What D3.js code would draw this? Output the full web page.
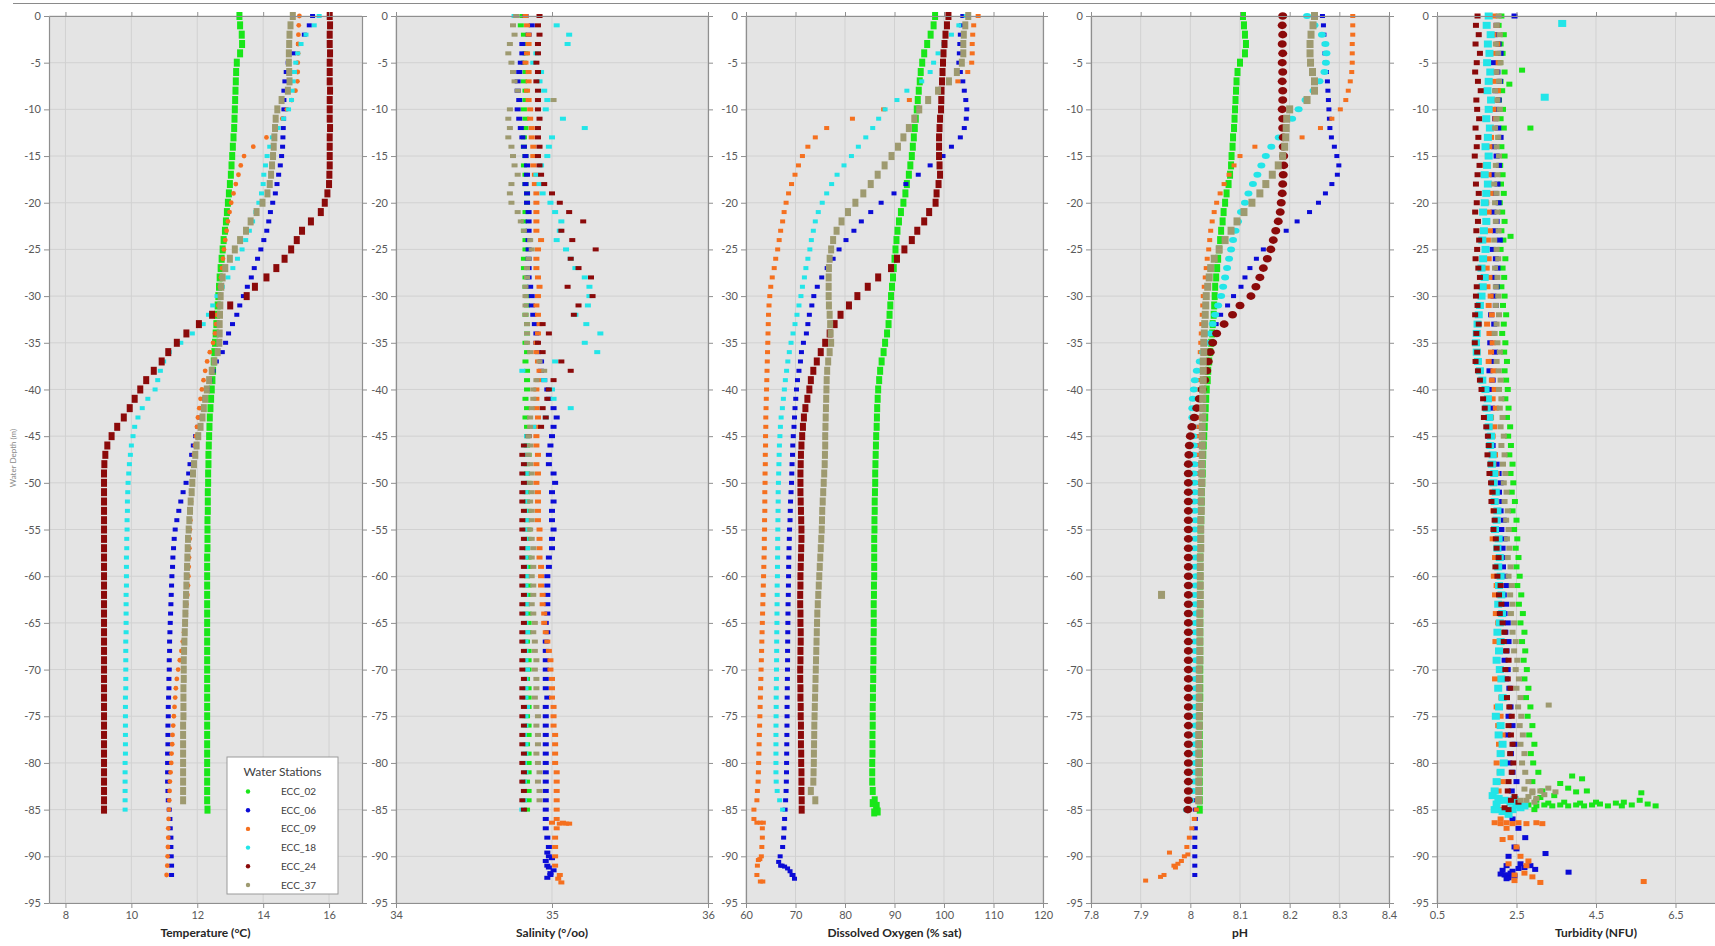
<!DOCTYPE html>
<html>
<head>
<meta charset="utf-8">
<script src="https://cdn.jsdelivr.net/npm/d3@7"></script>
<style>
  body { margin: 0; background: #fff; }
  svg { display: block; overflow: hidden; font-family: Lato, "Open Sans", sans-serif; }
</style>
</head>
<body>
<svg id="chart" width="1715" height="946"></svg>
<script>
/* CTD profiles of six water stations, one panel per parameter.
   Profiles read off at 1 m depth steps (index = metres below surface). */

var stations = ["ECC_02", "ECC_06", "ECC_09", "ECC_18", "ECC_24", "ECC_37"];
var stationColors = ["#19e619", "#0b0bd6", "#f5701f", "#22e5e8", "#8b0a0a", "#9e9a70"];

var depthTicks = [0, -5, -10, -15, -20, -25, -30, -35, -40, -45, -50, -55, -60, -65, -70, -75, -80, -85, -90, -95];
var tempTicks = [8, 10, 12, 14, 16];
var salTicks = [34, 35, 36];
var doTicks = [60, 70, 80, 90, 100, 110, 120];
var phTicks = [7.8, 7.9, 8.0, 8.1, 8.2, 8.3, 8.4];
var turbTicks = [0.5, 2.5, 4.5, 6.5];

// ---- Temperature (°C)
var temp02 = [13.28,13.3,13.35,13.36,13.3,13.2,13.18,13.17,13.16,13.15,
  13.14,13.13,13.12,13.1,13.08,13.06,13.04,13.02,12.99,12.96,
  12.93,12.9,12.87,12.84,12.8,12.77,12.74,12.71,12.68,12.66,
  12.64,12.62,12.6,12.58,12.56,12.54,12.52,12.5,12.48,12.46,
  12.44,12.42,12.4,12.38,12.37,12.36,12.35,12.34,12.34,12.33,
  12.33,12.32,12.32,12.32,12.31,12.31,12.31,12.31,12.3,12.3,
  12.3,12.3,12.3,12.3,12.3,12.3,12.3,12.3,12.3,12.3,
  12.3,12.3,12.3,12.3,12.3,12.3,12.3,12.3,12.3,12.3,
  12.3,12.3,12.3,12.3,12.3,12.31];
var temp06 = [15.5,15.4,15.25,15.08,14.92,14.76,14.7,14.66,14.63,14.63,
  14.63,14.62,14.61,14.6,14.59,14.56,14.52,14.47,14.42,14.37,
  14.29,14.22,14.17,14.11,14.02,13.93,13.83,13.73,13.64,13.52,
  13.4,13.29,13.2,13.07,12.95,12.86,12.76,12.58,12.48,12.38,
  12.3,12.22,12.15,12.08,12.02,11.95,11.88,11.83,11.78,11.74,
  11.66,11.57,11.5,11.44,11.38,11.33,11.3,11.28,11.26,11.25,
  11.23,11.22,11.21,11.2,11.19,11.18,11.17,11.16,11.16,11.15,
  11.15,11.14,11.14,11.13,11.12,11.12,11.11,11.11,11.11,11.1,
  11.1,11.1,11.1,11.11,11.12,11.15,11.17,11.18,11.2,11.2,
  11.21,11.22,11.22];
var temp09 = [15.1,15.08,15.07,15.06,15.06,15.05,15.05,15.04,14.98,14.87,
  14.72,14.58,14.42,14.1,13.7,13.42,13.32,13.25,13.17,13.1,
  13.03,12.98,12.93,12.89,12.85,12.81,12.78,12.75,12.72,12.69,
  12.67,12.64,12.6,12.57,12.54,12.48,12.38,12.3,12.24,12.19,
  12.14,12.1,12.06,12.02,11.99,11.96,11.93,11.9,11.88,11.86,
  11.84,11.82,11.81,11.8,11.79,11.78,11.77,11.76,11.75,11.74,
  11.73,11.72,11.7,11.67,11.65,11.63,11.6,11.56,11.52,11.47,
  11.42,11.38,11.35,11.33,11.31,11.29,11.27,11.25,11.24,11.22,
  11.21,11.19,11.17,11.16,11.15,11.14,11.13,11.12,11.12,11.11,
  11.1,11.09,11.07];
var temp18 = [15.7,15.55,15.3,15.15,15.05,14.99,14.95,14.91,14.88,14.86,
  14.77,14.62,14.45,14.28,14.2,14.12,14.07,14.02,14.0,13.95,
  13.87,13.78,13.68,13.58,13.47,13.36,13.22,13.08,12.93,12.76,
  12.6,12.47,12.34,12.18,11.85,11.5,11.15,10.98,10.88,10.8,
  10.72,10.5,10.33,10.2,10.1,10.05,10.0,9.97,9.94,9.92,
  9.9,9.89,9.88,9.88,9.87,9.87,9.86,9.86,9.85,9.85,
  9.85,9.85,9.84,9.84,9.84,9.84,9.84,9.83,9.83,9.83,
  9.83,9.83,9.83,9.82,9.82,9.82,9.82,9.82,9.82,9.82,
  9.81,9.81,9.81,9.81,9.81,9.81];
var temp24 = [16.02,16.03,16.02,16.02,16.03,16.02,16.02,16.02,16.03,16.02,
  16.02,16.02,16.03,16.02,16.02,16.02,16.02,16.01,16.0,15.95,
  15.87,15.75,15.45,15.18,15.02,14.85,14.65,14.4,14.1,13.75,
  13.5,13.0,12.45,12.05,11.67,11.38,11.12,10.92,10.68,10.45,
  10.27,10.1,9.95,9.77,9.57,9.4,9.27,9.21,9.18,9.17,
  9.17,9.17,9.17,9.17,9.17,9.17,9.17,9.17,9.17,9.17,
  9.17,9.17,9.17,9.17,9.17,9.17,9.17,9.17,9.17,9.17,
  9.17,9.17,9.17,9.17,9.17,9.17,9.17,9.17,9.17,9.17,
  9.17,9.17,9.17,9.17,9.17,9.17];
var temp37 = [14.9,14.83,14.8,14.79,14.78,14.78,14.79,14.8,14.75,14.56,
  14.43,14.38,14.36,14.34,14.32,14.3,14.27,14.24,14.2,14.13,
  13.98,13.8,13.62,13.48,13.3,13.14,12.99,12.85,12.77,12.73,
  12.71,12.7,12.69,12.68,12.68,12.67,12.62,12.52,12.44,12.36,
  12.29,12.24,12.2,12.16,12.1,12.03,11.98,11.94,11.9,11.87,
  11.85,11.83,11.8,11.78,11.76,11.74,11.72,11.71,11.7,11.69,
  11.68,11.67,11.66,11.65,11.64,11.63,11.62,11.61,11.6,11.59,
  11.59,11.59,11.58,11.58,11.58,11.58,11.57,11.57,11.57,11.57,
  11.57,11.57,11.57,11.57,11.57];

// ---- Salinity (°/oo)
var sal02 = [34.81,34.8,34.82,34.83,34.83,34.82,34.83,34.82,34.83,34.83,
  34.82,34.83,34.83,34.82,34.82,34.83,34.82,34.83,34.83,34.84,
  34.84,34.83,34.82,34.82,34.83,34.83,34.82,34.82,34.83,34.83,
  34.84,34.84,34.83,34.84,34.84,34.83,34.84,34.83,34.84,34.84,
  34.84,34.83,34.84,34.83,34.84,34.84,34.84,34.85,34.84,34.84,
  34.85,34.84,34.84,34.85,34.84,34.85,34.85,34.84,34.85,34.85,
  34.84,34.85,34.85,34.84,34.85,34.85,34.85,34.84,34.85,34.85,
  34.85,34.84,34.85,34.85,34.85,34.84,34.85,34.85,34.84,34.85,
  34.85,34.85,34.84,34.85,34.85,34.84];
var sal06 = [34.83,34.87,34.85,34.81,34.81,34.8,34.79,34.78,34.78,34.79,
  34.78,34.79,34.8,34.81,34.82,34.83,34.84,34.84,34.83,34.84,
  34.84,34.85,34.85,34.85,34.85,34.85,34.85,34.85,34.85,34.86,
  34.87,34.87,34.88,34.89,34.9,34.9,34.91,34.93,34.93,34.95,
  34.97,34.98,35.01,35.03,35.01,35.0,34.99,34.98,34.98,35.01,
  35.02,35.0,35.01,35.0,35.0,35.01,35.0,35.0,34.98,34.98,
  34.97,34.97,34.97,34.97,34.97,34.96,34.97,34.96,34.96,34.96,
  34.96,34.96,34.96,34.97,34.96,34.96,34.96,34.96,34.96,34.96,
  34.96,34.96,34.96,34.96,34.96,34.96,34.96,34.96,34.97,34.98,
  34.98,34.97,34.99];
var sal09 = [34.83,34.84,34.85,34.85,34.84,34.83,34.85,34.85,34.84,34.85,
  34.86,34.86,34.87,34.87,34.88,34.88,34.88,34.89,34.89,34.9,
  34.9,34.9,34.9,34.9,34.93,34.91,34.9,34.9,34.91,34.92,
  34.91,34.9,34.91,34.92,34.91,34.9,34.9,34.91,34.92,34.91,
  34.9,34.9,34.9,34.91,34.9,34.9,34.9,34.91,34.9,34.91,
  34.9,34.91,34.91,34.91,34.91,34.92,34.92,34.92,34.92,34.93,
  34.93,34.93,34.94,34.94,34.95,34.95,34.96,34.97,34.98,34.99,
  34.99,35.0,35.0,35.0,35.01,35.01,35.01,35.02,35.02,35.02,
  35.02,35.03,35.03,35.03,35.03,35.03,35.03,35.03,35.02,35.02,
  35.02,35.02,35.05];
var sal18 = [34.76,35.03,35.11,35.1,34.9,34.88,34.93,34.92,34.95,34.97,
  34.96,35.07,35.21,35.0,34.98,34.97,34.93,34.9,34.92,34.94,
  34.99,35.02,35.06,35.05,35.03,35.09,35.12,35.15,35.21,35.24,
  35.24,35.23,35.15,35.22,35.31,35.21,35.29,35.02,34.81,34.95,
  35.0,35.01,35.12,34.96,34.88,34.84,34.83,34.84,34.83,34.84,
  34.83,34.83,34.84,34.83,34.84,34.83,34.83,34.84,34.83,34.83,
  34.84,34.83,34.83,34.84,34.83,34.83,34.84,34.83,34.83,34.83,
  34.84,34.83,34.83,34.83,34.84,34.83,34.83,34.82,34.83,34.83,
  34.82,34.83,34.82,34.82,34.82,34.81];
var sal24 = [34.92,34.91,34.92,34.91,34.91,34.9,34.91,34.9,34.91,34.91,
  34.91,34.92,34.91,34.91,34.92,34.91,34.92,34.93,34.95,35.0,
  35.05,35.11,35.2,35.06,35.13,35.28,35.12,35.17,35.25,35.1,
  35.26,35.17,35.14,34.94,34.98,34.91,34.94,35.06,35.12,35.01,
  34.98,34.97,34.94,34.96,34.93,34.85,34.82,34.81,34.82,34.81,
  34.82,34.81,34.81,34.82,34.81,34.81,34.82,34.81,34.81,34.82,
  34.81,34.81,34.82,34.81,34.81,34.82,34.81,34.81,34.82,34.81,
  34.81,34.82,34.81,34.81,34.82,34.81,34.82,34.81,34.81,34.82,
  34.81,34.82,34.81,34.82,34.81,34.82];
var sal37 = [34.77,34.75,34.76,34.73,34.72,34.74,34.75,34.76,34.78,35.01,
  34.73,34.72,34.73,34.72,34.74,34.75,34.76,34.78,34.74,34.73,
  34.74,34.78,34.8,34.82,34.86,34.87,34.85,34.84,34.84,34.83,
  34.83,34.83,34.83,34.84,34.84,34.84,34.86,34.92,34.95,34.9,
  34.88,34.88,34.87,34.86,34.86,34.85,34.86,34.85,34.86,34.87,
  34.86,34.87,34.86,34.87,34.87,34.86,34.87,34.88,34.87,34.88,
  34.87,34.88,34.88,34.87,34.88,34.89,34.88,34.89,34.89,34.9,
  34.89,34.9,34.9,34.89,34.9,34.91,34.9,34.91,34.91,34.9,
  34.91,34.92,34.91,34.92,34.92];
var sal06Extra = [[34.96,-90.5],[34.98,-91.2],[34.99,-91.8],[35.0,-90.2],[34.97,-92.3],[35.01,-91.5],[34.97,-89.6]];
var sal09Extra = [[35.0,-86.4],[35.05,-86.5],[35.07,-86.4],[35.09,-86.5],[35.11,-86.5],[35.04,-92.4],[35.06,-92.8]];

// ---- Dissolved Oxygen (% sat)
var do02 = [98.2,97.9,97.3,96.6,96.0,95.6,95.3,95.1,94.9,94.7,
  94.5,94.3,94.1,93.9,93.7,93.5,93.2,92.9,92.5,92.2,
  91.8,91.3,90.9,90.6,90.4,90.2,90.0,89.85,89.7,89.5,
  89.3,89.15,89.0,88.8,88.5,88.1,87.8,87.4,87.1,86.9,
  86.7,86.6,86.5,86.45,86.4,86.3,86.25,86.2,86.15,86.1,
  86.1,86.05,86.0,86.0,85.95,85.95,85.9,85.9,85.9,85.9,
  85.9,85.85,85.85,85.8,85.8,85.8,85.8,85.75,85.75,85.75,
  85.7,85.7,85.65,85.65,85.6,85.6,85.6,85.55,85.55,85.55,
  85.5,85.5,85.5,85.6,86.0,86.3];
var do06 = [103.8,103.5,103.3,103.2,103.1,103.0,103.3,103.8,104.1,104.4,
  104.6,104.5,104.1,103.3,101.5,99.8,97.2,94.8,92.3,89.9,
  87.3,85.2,83.3,81.8,80.2,78.8,77.6,76.4,75.3,74.4,
  73.7,73.3,72.8,72.5,72.2,71.6,71.2,71.0,70.7,70.4,
  70.2,70.05,69.9,69.8,69.7,69.55,69.45,69.4,69.3,69.25,
  69.2,69.1,69.0,68.95,68.9,68.8,68.75,68.7,68.65,68.62,
  68.6,68.57,68.55,68.5,68.48,68.46,68.44,68.42,68.4,68.4,
  68.38,68.36,68.34,68.32,68.3,68.3,68.28,68.26,68.24,68.22,
  68.2,68.18,68.15,68.1,68.0,67.9,67.8,67.7,67.6,67.4,
  66.9,67.3,69.5];
var do09 = [106.9,106.0,105.8,105.7,105.7,105.6,104.8,102.8,98.8,93.0,
  87.8,81.5,76.3,74.0,72.5,71.4,70.6,69.9,69.2,68.6,
  68.1,67.7,67.4,67.0,66.7,66.4,66.0,65.7,65.3,65.0,
  64.8,64.65,64.55,64.5,64.45,64.4,64.35,64.3,64.25,64.2,
  64.15,64.1,64.05,64.0,64.0,63.95,63.95,63.9,63.9,63.85,
  63.85,63.8,63.8,63.8,63.75,63.75,63.7,63.7,63.65,63.6,
  63.55,63.5,63.45,63.4,63.35,63.3,63.25,63.2,63.15,63.1,
  63.05,63.0,62.95,62.9,62.85,62.8,62.75,62.7,62.65,62.6,
  62.55,62.5,62.45,62.3,62.2,61.6,61.6,63.3,63.3,63.2,
  63.1,62.3,62.2];
var do18 = [104.5,103.0,101.5,100.0,98.8,97.9,97.2,95.5,92.5,90.5,
  88.1,86.8,85.6,84.2,82.7,81.3,79.8,78.4,77.3,76.3,
  75.4,74.6,74.0,73.6,73.2,72.9,72.5,72.1,71.8,71.4,
  71.1,70.7,70.3,69.9,69.5,69.1,68.75,68.45,68.2,67.95,
  67.75,67.55,67.35,67.1,66.95,66.85,66.75,66.7,66.65,66.6,
  66.55,66.5,66.5,66.48,66.45,66.43,66.4,66.4,66.38,66.36,
  66.35,66.3,66.3,66.28,66.26,66.25,66.22,66.2,66.2,66.18,
  66.16,66.15,66.12,66.1,66.1,66.08,66.06,66.05,66.05,66.05,
  66.05,66.05,66.1,66.3,66.8,67.4];
var do24 = [100.9,100.6,100.3,100.1,99.9,99.8,99.7,99.6,99.5,99.45,
  99.4,99.2,99.1,99.0,99.0,99.0,99.1,99.2,98.9,98.5,
  98.3,97.0,96.0,94.6,93.5,92.0,90.5,89.3,86.7,84.6,
  82.5,80.8,79.1,77.9,76.9,76.0,75.1,74.3,73.6,73.1,
  72.8,72.4,72.0,71.7,71.5,71.35,71.2,71.1,71.05,71.0,
  71.0,71.0,71.05,71.1,71.15,71.2,71.2,71.15,71.1,71.05,
  71.0,71.0,70.95,70.95,71.0,71.0,71.05,71.05,71.0,71.0,
  70.95,70.95,71.0,71.0,71.05,71.05,71.1,71.1,71.1,71.15,
  71.15,71.2,71.2,71.2,71.25,71.25];
var do37 = [104.9,104.3,104.0,103.9,103.9,103.6,102.6,101.0,98.8,96.8,
  95.0,94.0,92.9,91.8,90.7,89.4,88.0,86.6,85.2,83.7,
  82.1,80.6,79.3,78.3,77.6,77.2,76.9,76.75,76.7,76.7,
  76.7,76.75,76.9,77.0,77.1,77.2,76.9,76.6,76.4,76.3,
  76.25,76.2,76.15,76.1,76.05,76.0,76.0,75.95,75.9,75.8,
  75.7,75.6,75.5,75.4,75.35,75.3,75.2,75.1,75.0,74.9,
  74.8,74.7,74.6,74.5,74.4,74.35,74.3,74.25,74.2,74.15,
  74.1,74.05,74.0,73.95,73.9,73.85,73.8,73.78,73.75,73.72,
  73.7,73.65,73.6,73.1,74.0];
var do02Extra = [[85.6,-84.3],[86.4,-84.6],[86.6,-85.2],[85.9,-85.3]];
var do06Extra = [[66.6,-90.6],[67.0,-91.0],[67.8,-91.1],[68.4,-91.3],[68.9,-91.6],[69.3,-92.0],[69.8,-92.4]];
var do09Extra = [[62.2,-86.4],[62.9,-86.4],[63.5,-86.4],[62.8,-90.3],[62.5,-90.4],[62.9,-92.7],[63.4,-92.7]];

// ---- pH
var ph02 = [8.106,8.108,8.11,8.112,8.11,8.1,8.095,8.093,8.092,8.091,
  8.09,8.089,8.088,8.086,8.085,8.083,8.082,8.08,8.077,8.073,
  8.07,8.067,8.065,8.062,8.06,8.058,8.056,8.054,8.052,8.05,
  8.049,8.048,8.047,8.045,8.044,8.042,8.04,8.038,8.036,8.035,
  8.033,8.032,8.031,8.03,8.029,8.028,8.027,8.026,8.025,8.025,
  8.024,8.023,8.023,8.022,8.022,8.021,8.021,8.021,8.02,8.02,
  8.02,8.02,8.02,8.02,8.02,8.02,8.02,8.02,8.02,8.02,
  8.02,8.02,8.02,8.02,8.019,8.019,8.019,8.019,8.019,8.019,
  8.019,8.019,8.019,8.019,8.019,8.019];
var ph06 = [8.266,8.268,8.269,8.27,8.271,8.272,8.274,8.276,8.277,8.278,
  8.279,8.28,8.281,8.284,8.29,8.295,8.299,8.296,8.285,8.272,
  8.258,8.24,8.215,8.193,8.165,8.147,8.133,8.12,8.11,8.102,
  8.087,8.075,8.061,8.052,8.044,8.036,8.031,8.028,8.025,8.022,
  8.02,8.018,8.018,8.017,8.017,8.016,8.016,8.016,8.015,8.015,
  8.015,8.015,8.014,8.014,8.014,8.014,8.014,8.013,8.013,8.013,
  8.013,8.013,8.013,8.012,8.012,8.012,8.012,8.012,8.012,8.012,
  8.012,8.012,8.012,8.012,8.012,8.012,8.011,8.011,8.011,8.011,
  8.011,8.011,8.011,8.011,8.011,8.01,8.01,8.01,8.009,8.009,
  8.009,8.009,8.009];
var ph09 = [8.327,8.327,8.327,8.326,8.326,8.326,8.325,8.322,8.318,8.313,
  8.302,8.285,8.262,8.225,8.13,8.1,8.088,8.078,8.068,8.06,
  8.053,8.048,8.044,8.041,8.039,8.037,8.034,8.032,8.03,8.028,
  8.026,8.025,8.024,8.023,8.022,8.021,8.02,8.019,8.018,8.017,
  8.016,8.016,8.016,8.016,8.016,8.016,8.015,8.015,8.015,8.015,
  8.015,8.015,8.015,8.015,8.015,8.015,8.015,8.015,8.015,8.015,
  8.015,8.015,8.015,8.015,8.015,8.015,8.014,8.014,8.014,8.014,
  8.014,8.014,8.014,8.014,8.014,8.014,8.014,8.014,8.014,8.014,
  8.014,8.014,8.014,8.014,8.014,8.012,8.008,8.003,7.998,7.993,
  7.988,7.967,7.947];
var ph18 = [8.235,8.25,8.265,8.272,8.274,8.273,8.27,8.26,8.248,8.232,
  8.218,8.205,8.19,8.178,8.163,8.152,8.143,8.135,8.126,8.117,
  8.11,8.102,8.096,8.091,8.086,8.082,8.078,8.074,8.07,8.066,
  8.062,8.056,8.05,8.045,8.039,8.033,8.026,8.019,8.013,8.009,
  8.007,8.005,8.004,8.004,8.005,8.006,8.007,8.006,8.008,8.007,
  8.008,8.009,8.008,8.009,8.01,8.009,8.01,8.009,8.01,8.01,
  8.011,8.01,8.009,8.01,8.011,8.01,8.01,8.009,8.01,8.011,
  8.01,8.01,8.011,8.01,8.009,8.01,8.01,8.011,8.01,8.01,
  8.01,8.009,8.008,8.006,8.0,7.993];
var ph24 = [8.186,8.185,8.186,8.185,8.186,8.185,8.186,8.185,8.186,8.186,
  8.185,8.186,8.186,8.187,8.187,8.188,8.188,8.187,8.186,8.185,
  8.183,8.181,8.177,8.172,8.167,8.162,8.155,8.147,8.14,8.132,
  8.122,8.1,8.085,8.068,8.053,8.045,8.04,8.036,8.033,8.029,
  8.024,8.018,8.013,8.008,8.003,8.0,7.998,7.997,7.996,7.996,
  7.996,7.996,7.996,7.996,7.996,7.996,7.996,7.996,7.996,7.996,
  7.996,7.996,7.996,7.996,7.996,7.996,7.996,7.996,7.996,7.996,
  7.996,7.996,7.996,7.996,7.996,7.996,7.996,7.996,7.996,7.996,
  7.996,7.996,7.996,7.996,7.996,7.995];
var ph37 = [8.25,8.247,8.243,8.241,8.241,8.242,8.246,8.25,8.25,8.235,
  8.2,8.194,8.193,8.192,8.19,8.186,8.177,8.165,8.152,8.14,
  8.124,8.108,8.094,8.082,8.07,8.058,8.048,8.041,8.038,8.035,
  8.032,8.031,8.03,8.029,8.028,8.027,8.027,8.026,8.026,8.026,
  8.025,8.025,8.025,8.025,8.024,8.024,8.024,8.024,8.023,8.023,
  8.023,8.022,8.022,8.022,8.021,8.021,8.021,8.021,8.02,8.02,
  8.02,8.02,8.02,8.02,8.019,8.019,8.019,8.019,8.019,8.019,
  8.018,8.018,8.018,8.018,8.018,8.018,8.018,8.017,8.017,8.017,
  8.017,8.017,8.017,8.017,8.017];
var ph09Extra = [[7.958,-89.6],[7.975,-90.8],[7.982,-90.5],[7.91,-92.6],[7.94,-92.2],[7.995,-89.8],[7.97,-91.2]];
var ph37Extra = [[7.942,-62]];

// ---- Turbidity (NFU)
var turb02 = [2.12,2.05,2.18,2.1,2.15,2.08,2.2,2.1,2.14,2.06,
  2.16,2.1,2.18,2.05,2.12,2.2,2.09,2.15,2.11,2.18,
  2.08,2.14,2.2,2.12,2.17,2.1,2.22,2.15,2.19,2.12,
  2.2,2.16,2.24,2.18,2.14,2.22,2.19,2.26,2.2,2.24,
  2.28,2.22,2.3,2.26,2.34,2.29,2.36,2.32,2.4,2.35,
  2.42,2.38,2.46,2.4,2.5,2.44,2.52,2.48,2.55,2.5,
  2.58,2.52,2.62,2.56,2.66,2.6,2.7,2.64,2.72,2.68,
  2.76,2.7,2.8,2.74,2.85,2.78,2.9,2.82,2.95,2.86,
  2.92,3.05,2.9,3.15,3.0,2.95];
var turb06 = [2.45,2.0,1.95,2.05,2.1,1.92,2.02,2.08,1.98,2.05,
  2.0,1.96,2.04,2.1,1.94,2.0,2.06,1.9,2.02,1.97,
  2.05,1.92,2.0,1.96,2.08,1.9,1.98,2.02,1.94,2.0,
  1.92,1.98,1.86,1.94,1.9,1.84,1.96,1.88,1.82,1.9,
  1.86,1.8,1.88,1.84,1.78,1.8,1.9,1.95,2.0,2.05,
  2.1,2.06,2.14,2.1,2.18,2.12,2.2,2.15,2.22,2.16,
  2.2,2.25,2.18,2.24,2.2,2.28,2.22,2.3,2.25,2.2,
  2.28,2.24,2.32,2.26,2.35,2.3,2.4,2.28,2.45,2.36,
  2.32,2.4,2.5,2.38,2.3,2.35,2.4,2.55,2.72,2.45,
  2.3,2.25,2.3];
var turb09 = [1.95,2.0,1.92,2.02,1.96,2.05,1.98,1.94,2.03,1.99,
  1.92,1.97,1.9,1.86,1.82,1.78,1.72,1.8,1.76,1.85,
  1.74,1.8,1.76,1.83,1.78,1.72,1.8,1.75,1.82,1.77,
  1.85,1.8,1.88,1.76,1.82,1.9,1.86,1.8,1.92,1.88,
  1.95,1.9,1.98,1.86,1.94,1.9,1.84,1.96,1.92,2.0,
  1.94,1.88,1.98,1.92,2.02,1.95,1.9,2.0,1.96,2.05,
  1.93,2.0,1.96,2.08,1.98,2.04,2.1,1.97,2.06,2.0,
  2.08,1.96,2.05,2.12,2.0,2.1,2.04,2.15,2.06,2.12,
  2.0,2.08,2.15,2.05,2.2,2.12,2.1,2.25,2.35,2.5,
  2.6,2.75,2.45];
var turb18 = [1.8,1.75,1.85,1.78,1.82,1.76,1.84,1.8,1.77,1.86,
  1.8,1.74,1.83,1.78,1.72,1.8,1.76,1.7,1.78,1.74,
  1.7,1.66,1.74,1.68,1.64,1.72,1.66,1.62,1.7,1.65,
  1.62,1.58,1.55,1.52,1.5,1.48,1.5,1.53,1.58,1.64,
  1.72,1.78,1.75,1.82,1.8,1.86,1.84,1.9,1.88,1.94,
  1.92,1.98,1.95,2.02,2.0,1.96,2.05,2.02,2.08,2.04,
  2.1,2.06,2.12,2.04,2.14,2.08,2.02,2.1,2.06,2.0,
  2.08,2.12,2.04,2.15,2.06,1.98,2.1,2.05,2.15,2.1,
  2.18,2.1,2.0,1.95,2.05,1.98];
var turb24 = [1.52,1.48,1.55,1.47,1.58,1.5,1.46,1.53,1.6,1.49,
  1.51,1.56,1.47,1.54,1.5,1.45,1.57,1.52,1.48,1.55,
  1.5,1.46,1.53,1.49,1.56,1.51,1.47,1.54,1.58,1.5,
  1.48,1.52,1.46,1.55,1.49,1.45,1.51,1.47,1.53,1.58,
  1.62,1.66,1.7,1.68,1.74,1.78,1.8,1.77,1.84,1.82,
  1.86,1.9,1.87,1.93,1.95,1.92,1.98,2.0,2.05,1.97,
  2.02,2.1,2.06,2.12,2.08,2.15,2.2,2.18,2.24,2.3,
  2.22,2.28,2.35,2.26,2.32,2.38,2.3,2.36,2.4,2.34,
  2.42,2.38,2.3,2.28,2.36,2.3];
var turb37 = [2.05,2.0,2.08,1.98,2.04,2.1,2.0,2.06,1.96,2.02,
  2.08,2.0,1.96,2.04,2.0,2.06,1.98,2.02,1.94,2.0,
  1.96,2.02,1.98,2.05,1.94,2.0,2.04,1.96,2.02,1.98,
  2.04,1.98,2.06,2.0,1.95,2.02,2.08,2.0,2.05,2.1,
  2.06,2.12,2.08,2.15,2.1,2.18,2.12,2.2,2.16,2.22,
  2.18,2.25,2.2,2.28,2.24,2.3,2.26,2.32,2.28,2.35,
  2.3,2.38,2.34,2.4,2.36,2.44,2.4,2.48,2.44,2.52,
  2.48,2.56,2.5,2.6,2.54,2.62,2.58,2.66,2.6,2.7,
  2.64,2.72,2.8,2.9,2.75];
var turb02Extra = [[2.64,-5.8],[2.32,-7.3],[2.85,-12],[2.35,-23.6],[3.6,-82.2],[3.8,-82.7],[4.0,-83.1],
  [3.45,-83.5],[3.1,-83.7],[4.15,-81.7],[3.9,-81.4],[4.27,-83],[5.64,-83.2],[2.8,-84.5],[3.0,-84.6],
  [3.2,-84.5],[3.4,-84.6],[3.6,-84.5],[3.8,-84.6],[4.0,-84.5],[4.2,-84.6],[4.4,-84.5],[4.6,-84.4],
  [4.8,-84.6],[5.0,-84.3],[5.2,-84.2],[5.4,-84.5],[5.6,-84.0],[5.8,-84.4],[6.0,-84.6],[4.1,-84.3],
  [4.5,-84.2],[5.15,-84.6],[3.3,-84.3],[3.7,-84.2]];
var turb06Extra = [[2.15,-91.5],[2.2,-92],[2.3,-92.3],[2.35,-91.8],[2.45,-92.1],[2.55,-91.3],[2.7,-91.2],
  [2.97,-91.4],[3.23,-89.7],[3.81,-91.7],[2.6,-90.8],[2.25,-92.4],[2.4,-91.6],[2.1,-91.9],[2.85,-91.0],[2.5,-89.2]];
var turb09Extra = [[1.95,-86.4],[2.1,-86.5],[2.25,-86.4],[2.4,-86.5],[2.55,-86.4],[2.75,-86.5],[3.0,-86.4],
  [3.15,-86.5],[2.3,-90.8],[2.7,-91.8],[2.9,-92.2],[3.1,-92.8],[5.7,-92.7],[2.45,-92.6],[2.8,-90.5],[2.15,-88.2]];
var turb18Extra = [[3.65,-0.8],[3.21,-8.7],[1.9,-83.5],[2.05,-83.8],[2.2,-84],[2.35,-84.2],[2.5,-84.5],
  [2.6,-84.8],[2.4,-85],[2.15,-85.2],[1.95,-85],[2.3,-85.5],[2.7,-84.6],[2.0,-84.4],[2.45,-83.9]];
var turb24Extra = [[2.55,-84.2],[2.2,-84.8],[2.45,-83.6]];
var turb37Extra = [[3.31,-73.8],[2.7,-82.8],[2.9,-83.2],[3.1,-83.0],[3.3,-82.7],[3.48,-83.1],[2.8,-83.6],
  [3.0,-83.8],[3.2,-83.4],[2.6,-84],[2.95,-84.2]];

// ---- panel setup
var panels = [
  { key: 'temp', title: 'Temperature (°C)', domain: [7.5, 17], ticks: tempTicks, left: 49, right: 362,
    series: [temp02, temp06, temp09, temp18, temp24, temp37], extra: [[], [], [], [], [], []] },
  { key: 'sal', title: 'Salinity (°/oo)', domain: [34, 36], ticks: salTicks, left: 396, right: 708,
    series: [sal02, sal06, sal09, sal18, sal24, sal37], extra: [[], sal06Extra, sal09Extra, [], [], []] },
  { key: 'do', title: 'Dissolved Oxygen (% sat)', domain: [60, 120], ticks: doTicks, left: 746, right: 1043,
    series: [do02, do06, do09, do18, do24, do37], extra: [do02Extra, do06Extra, do09Extra, [], [], []] },
  { key: 'ph', title: 'pH', domain: [7.8, 8.4], ticks: phTicks, left: 1091, right: 1389,
    series: [ph02, ph06, ph09, ph18, ph24, ph37], extra: [[], [], ph09Extra, [], [], ph37Extra] },
  { key: 'turb', title: 'Turbidity (NFU)', domain: [0.5, 8.5], ticks: turbTicks, left: 1437, right: 1755,
    series: [turb02, turb06, turb09, turb18, turb24, turb37],
    extra: [turb02Extra, turb06Extra, turb09Extra, turb18Extra, turb24Extra, turb37Extra] }
];

var plotTop = 16, plotBottom = 903;
var axisColor = '#8f8f8f', labelColor = '#595959';

var svg = d3.select('#chart');

var yScale = d3.scaleLinear().domain([0, -95]).range([plotTop, plotBottom]);

// marker look per panel / station
function markStyle(key, k) {
  if (key === 'sal') return { shape: 'rect', w: 6, h: 4 };
  if (key === 'turb') return k === 3 ? { shape: 'rect', w: 8, h: 7 } : { shape: 'rect', w: 6, h: 5 };
  if (key === 'ph') {
    if (k === 4) return { shape: 'ellipse', rx: 4.5, ry: 3.8 };
    if (k === 3) return { shape: 'ellipse', rx: 4, ry: 3 };
    if (k === 5) return { shape: 'rect', w: 7, h: 8 };
  }
  if (key === 'temp' && k === 2) return { shape: 'circle', r: 2.4 };
  if (k === 0 || k === 4 || k === 5) return { shape: 'rect', w: 6, h: 8 };
  return { shape: 'rect', w: 5, h: 4 };
}

function styleAxis(sel) {
  sel.select('.domain').attr('stroke', axisColor).attr('stroke-width', 1.2);
  sel.selectAll('.tick line').attr('stroke', axisColor);
  sel.selectAll('.tick text').attr('fill', labelColor).style('font-size', '11px')
    .style('font-family', 'Lato, "Open Sans", sans-serif');
}

function fmt(t) { return String(+t.toFixed(2)); }

// thin rule across the top
svg.append('line').attr('x1', 13).attr('x2', 1715).attr('y1', 3.5).attr('y2', 3.5)
  .attr('stroke', '#8a8a8a').attr('stroke-width', 1.2);

panels.forEach(function(p) {
  var xScale = d3.scaleLinear().domain(p.domain).range([p.left, p.right]);
  var g = svg.append('g').attr('class', 'panel-' + p.key);

  g.append('rect')
    .attr('x', p.left).attr('y', plotTop)
    .attr('width', p.right - p.left).attr('height', plotBottom - plotTop)
    .attr('fill', '#e4e4e4');

  // gridlines
  g.append('g').selectAll('line').data(p.ticks).enter().append('line')
    .attr('x1', xScale).attr('x2', xScale)
    .attr('y1', plotTop).attr('y2', plotBottom)
    .attr('stroke', '#d1d1d1').attr('stroke-width', 1);
  g.append('g').selectAll('line').data(depthTicks).enter().append('line')
    .attr('x1', p.left).attr('x2', p.right)
    .attr('y1', yScale).attr('y2', yScale)
    .attr('stroke', '#d1d1d1').attr('stroke-width', 1);

  // points
  p.series.forEach(function(vals, k) {
    var pts = vals.map(function(v, i) { return { v: v, d: -i }; })
      .concat(p.extra[k].map(function(e) { return { v: e[0], d: e[1] }; }));
    var st = markStyle(p.key, k);
    var sg = g.append('g').attr('fill', stationColors[k]);
    if (st.shape === 'rect') {
      sg.selectAll('rect').data(pts).enter().append('rect')
        .attr('x', function(d) { return xScale(d.v) - st.w / 2; })
        .attr('y', function(d) { return yScale(d.d) - st.h / 2; })
        .attr('width', st.w).attr('height', st.h);
    } else if (st.shape === 'ellipse') {
      sg.selectAll('ellipse').data(pts).enter().append('ellipse')
        .attr('cx', function(d) { return xScale(d.v); })
        .attr('cy', function(d) { return yScale(d.d); })
        .attr('rx', st.rx).attr('ry', st.ry);
    } else {
      sg.selectAll('circle').data(pts).enter().append('circle')
        .attr('cx', function(d) { return xScale(d.v); })
        .attr('cy', function(d) { return yScale(d.d); })
        .attr('r', st.r);
    }
  });

  // axes: labelled left/bottom, mirrored ticks top/right
  g.append('g').attr('transform', 'translate(' + p.left + ',0)')
    .call(d3.axisLeft(yScale).tickValues(depthTicks).tickSize(5).tickSizeOuter(0).tickPadding(3)
      .tickFormat(function(t) { return String(t); }))
    .call(styleAxis);
  g.append('g').attr('transform', 'translate(' + p.right + ',0)')
    .call(d3.axisRight(yScale).tickValues(depthTicks).tickSize(5).tickSizeOuter(0).tickFormat(''))
    .call(styleAxis);
  g.append('g').attr('transform', 'translate(0,' + plotBottom + ')')
    .call(d3.axisBottom(xScale).tickValues(p.ticks).tickSize(5).tickSizeOuter(0).tickPadding(3).tickFormat(fmt))
    .call(styleAxis);
  g.append('g').attr('transform', 'translate(0,' + plotTop + ')')
    .call(d3.axisTop(xScale).tickValues(p.ticks).tickSize(4).tickSizeOuter(0).tickFormat(''))
    .call(styleAxis);

  g.append('text')
    .attr('x', (p.left + p.right) / 2)
    .attr('y', 937)
    .attr('text-anchor', 'middle')
    .attr('fill', '#262626')
    .style('font-size', '12px').style('font-weight', 'bold')
    .text(p.title);
});

// faint depth title on the far left
svg.append('text')
  .attr('transform', 'translate(16,458) rotate(-90)')
  .attr('text-anchor', 'middle')
  .attr('fill', '#8a8a8a')
  .style('font-size', '8px')
  .text('Water Depth (m)');

// legend inside the temperature panel
var legend = svg.append('g').attr('transform', 'translate(227,757)');
legend.append('rect').attr('width', 111).attr('height', 137)
  .attr('fill', '#fff').attr('stroke', '#9a9a9a').attr('stroke-width', 1);
legend.append('text').attr('x', 55.5).attr('y', 19)
  .attr('text-anchor', 'middle').attr('fill', '#404040')
  .style('font-size', '12px').text('Water Stations');
var items = legend.selectAll('g.item').data(stations).enter().append('g')
  .attr('class', 'item')
  .attr('transform', function(d, i) { return 'translate(0,' + (34.5 + i * 18.7) + ')'; });
items.append('circle').attr('cx', 21).attr('cy', 0).attr('r', 2.2)
  .attr('fill', function(d, i) { return stationColors[i]; });
items.append('text').attr('x', 54).attr('y', 3.5)
  .attr('fill', '#404040').style('font-size', '10px')
  .text(function(d) { return d; });
</script>
</body>
</html>
